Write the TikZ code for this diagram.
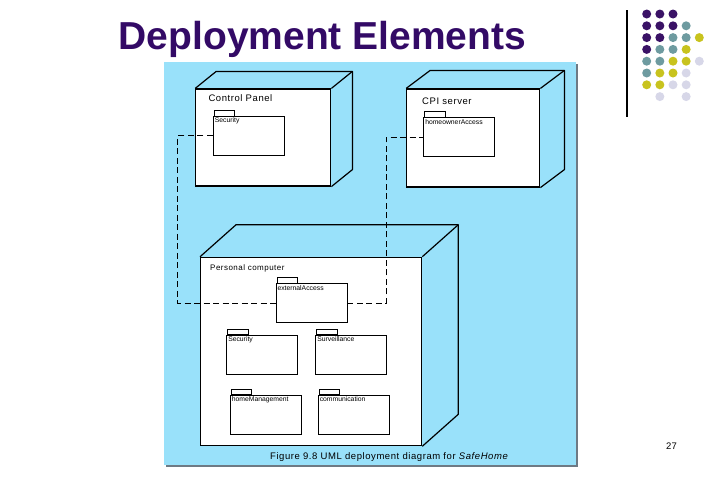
\documentclass[tikz,border=0pt]{standalone}
\usepackage{fontspec}
\setmainfont{Liberation Sans}
\newfontfamily\figfont[LetterSpace=6]{Liberation Sans}
\usetikzlibrary{calc}

\definecolor{ttlpurple}{RGB}{51,10,102}
\definecolor{dotpurple}{RGB}{58,18,102}
\definecolor{dotteal}{RGB}{110,155,160}
\definecolor{dotyellow}{RGB}{200,195,30}
\definecolor{dotlilac}{RGB}{215,215,232}
\definecolor{panelblue}{RGB}{153,225,250}
\definecolor{panelshadow}{RGB}{110,122,132}

\begin{document}
\begin{tikzpicture}[x=1pt, y=-1pt,
  dev/.style={draw, fill=white, line width=1.2pt, inner sep=0pt},
  devedge/.style={line width=1.2pt, line join=round},
  devlbl/.style={anchor=north west, inner sep=0pt, font=\figfont\fontsize{9.5}{11}\selectfont},
  pkg/.style={draw, fill=white, line width=0.9pt, minimum width=71, minimum height=39, inner sep=0pt},
  pkgname/.style={anchor=north west, inner sep=1.8pt, font=\fontsize{6.8}{8}\selectfont},
  pkgtab/.style={draw, fill=white, line width=0.9pt},
  link/.style={line width=1.1pt, dash pattern=on 6pt off 3.5pt}]

\useasboundingbox (0,0) rectangle (720,480);

% slide header
\node[font=\bfseries\fontsize{39}{46}\selectfont, text=ttlpurple, anchor=base] (title) at (322.5,49) {Deployment Elements};
\draw[line width=1.2pt] (627,10) -- (627,117);
\foreach \c/\r/\clr in {0/0/dotpurple,1/0/dotpurple,2/0/dotpurple,
  0/1/dotpurple,1/1/dotpurple,2/1/dotpurple,3/1/dotteal,
  0/2/dotpurple,1/2/dotpurple,2/2/dotteal,3/2/dotteal,4/2/dotyellow,
  0/3/dotpurple,1/3/dotteal,2/3/dotteal,3/3/dotyellow,
  0/4/dotteal,1/4/dotteal,2/4/dotyellow,3/4/dotyellow,4/4/dotlilac,
  0/5/dotteal,1/5/dotyellow,2/5/dotyellow,3/5/dotlilac,
  0/6/dotyellow,1/6/dotyellow,2/6/dotlilac,3/6/dotlilac,
  1/7/dotlilac,3/7/dotlilac}
  \fill[\clr] (646.7+13.15*\c, 14+11.8*\r) circle (4.5pt);

% figure panel
\fill[panelshadow] (166,64) rectangle (578,467);
\fill[panelblue] (164,62) rectangle (576,465);

% Control Panel
\node[dev, minimum width=135, minimum height=97] (cp) at (263.3,137.5) {};
\draw[devedge] (cp.north west) -- ++(21,-17) -- ($(cp.north east)+(21,-17)$) -- ($(cp.south east)+(21,-17)$) -- (cp.south east);
\draw[devedge] (cp.north east) -- ++(21,-17);
\node[devlbl] (cplbl) at (208.3,94.3) {Control Panel};

% CPI server
\node[dev, minimum width=133, minimum height=98] (cpi) at (473.3,138) {};
\draw[devedge] (cpi.north west) -- ++(24,-18) -- ($(cpi.north east)+(24,-18)$) -- ($(cpi.south east)+(24,-18)$) -- (cpi.south east);
\draw[devedge] (cpi.north east) -- ++(24,-18);
\node[devlbl] (cpilbl) at (422,97.3) {CPI server};

% Personal computer
\node[dev, minimum width=221, minimum height=188.4] (pc) at (311.2,351.5) {};
\draw[devedge] (pc.north west) -- ++(36,-32) -- ($(pc.north east)+(36,-32)$) -- ($(pc.south east)+(36,-32)$) -- (pc.south east);
\draw[devedge] (pc.north east) -- ++(36,-32);
\node[devlbl, font=\figfont\fontsize{8}{10}\selectfont] (pclbl) at (210,264) {Personal computer};

% packages
\node[pkg, label={[pkgname]north west:Security}] (cpsec) at (248.8,135.9) {};
\node[pkg, label={[pkgname]north west:homeownerAccess}] (cpiacc) at (459.2,137.3) {};
\node[pkg, label={[pkgname]north west:externalAccess}] (ext) at (311.5,303.2) {};
\node[pkg, label={[pkgname]north west:Security}] (pcsec) at (262.2,354.7) {};
\node[pkg, label={[pkgname]north west:Surveillance}] (surv) at (351.3,354.5) {};
\node[pkg, label={[pkgname]north west:homeManagement}] (hm) at (265.8,414.5) {};
\node[pkg, label={[pkgname]north west:communication}] (comm) at (353.7,414.5) {};
\foreach \p in {cpsec,cpiacc,ext,pcsec,surv,hm,comm}
  \draw[pkgtab] ($(\p.north west)+(1.5,0)$) rectangle ++(20.5,-5.5);

% links
\draw[link] (cpsec.west) -- ++(-35,0) |- (ext.west);
\draw[link] (ext.east) -- ++(38.7,0) |- (cpiacc.west);

\node[font=\figfont\fontsize{9.5}{11}\selectfont, anchor=base] (caption) at (389,459.5) {Figure 9.8 UML deployment diagram for {\itshape SafeHome}};
\node[font=\fontsize{9.5}{11}\selectfont, anchor=base] (pgno) at (671.5,449.3) {27};
\end{tikzpicture}
\end{document}
